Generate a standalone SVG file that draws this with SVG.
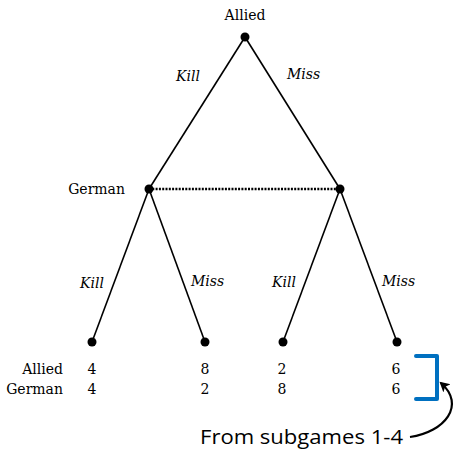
<svg xmlns="http://www.w3.org/2000/svg" width="459" height="449" viewBox="0 0 459 449">
<style>
.t{font-family:"DejaVu Serif","Liberation Serif",serif;font-size:14px;fill:#000}
.i{font-style:italic}
.e{stroke:#000;stroke-width:1.6;fill:none}
.n{fill:#000}
</style>
<defs>
<marker id="ah" markerWidth="12" markerHeight="12" refX="8" refY="5.5" orient="auto" markerUnits="userSpaceOnUse">
<path d="M0,0 L10,5.5 L0,11 L2.5,5.5 Z" fill="#000"/>
</marker>
</defs>
<rect width="459" height="449" fill="#fff"/>
<g id="connectors">
<line class="e" x1="245" y1="37" x2="149" y2="189"/>
<line class="e" x1="245" y1="37" x2="340" y2="189"/>
<line class="e" x1="149" y1="189" x2="92" y2="342"/>
<line class="e" x1="149" y1="189" x2="205" y2="342"/>
<line class="e" x1="340" y1="189" x2="283" y2="342"/>
<line class="e" x1="340" y1="189" x2="397" y2="342"/>
<line x1="149" y1="189" x2="340" y2="189" stroke="#000" stroke-width="2.4" stroke-dasharray="2,1.3"/>
<text class="t i" x="176" y="81">Kill</text>
<text class="t i" x="287" y="79">Miss</text>
<text class="t i" x="80" y="288">Kill</text>
<text class="t i" x="191" y="286">Miss</text>
<text class="t i" x="272" y="287">Kill</text>
<text class="t i" x="382" y="286">Miss</text>
</g>
<g id="root"><circle class="n" cx="245" cy="37" r="4.5"/><text class="t" x="245" y="20" text-anchor="middle">Allied</text></g>
<g id="german-left"><circle class="n" cx="149" cy="189" r="4.5"/><text class="t" x="125" y="194" text-anchor="end">German</text></g>
<g id="german-right"><circle class="n" cx="340" cy="189" r="4.5"/></g>
<g id="leaf1"><circle class="n" cx="92" cy="342" r="4.5"/><text class="t" x="92" y="374" text-anchor="middle">4</text><text class="t" x="92" y="394" text-anchor="middle">4</text></g>
<g id="leaf2"><circle class="n" cx="205" cy="342" r="4.5"/><text class="t" x="205" y="374" text-anchor="middle">8</text><text class="t" x="205" y="394" text-anchor="middle">2</text></g>
<g id="leaf3"><circle class="n" cx="283" cy="342" r="4.5"/><text class="t" x="282" y="374" text-anchor="middle">2</text><text class="t" x="282" y="394" text-anchor="middle">8</text></g>
<g id="leaf4"><circle class="n" cx="397" cy="342" r="4.5"/><text class="t" x="396" y="374" text-anchor="middle">6</text><text class="t" x="396" y="394" text-anchor="middle">6</text></g>
<g id="labels">
<text class="t" x="63" y="374" text-anchor="end">Allied</text>
<text class="t" x="63" y="394" text-anchor="end">German</text>
</g>
<g id="bracket">
<path d="M416,356 H437 V399 H416" fill="none" stroke="#0070C0" stroke-width="4" stroke-linecap="round" stroke-linejoin="round"/>
</g>
<g id="note">
<text x="200" y="444" font-family="'Open Sans','Liberation Sans',sans-serif" font-size="20" textLength="203" lengthAdjust="spacingAndGlyphs" fill="#000">From subgames 1-4</text>
<path d="M410,437 C445,432 466,405 441,383" fill="none" stroke="#000" stroke-width="2.2" marker-end="url(#ah)"/>
</g>
</svg>
